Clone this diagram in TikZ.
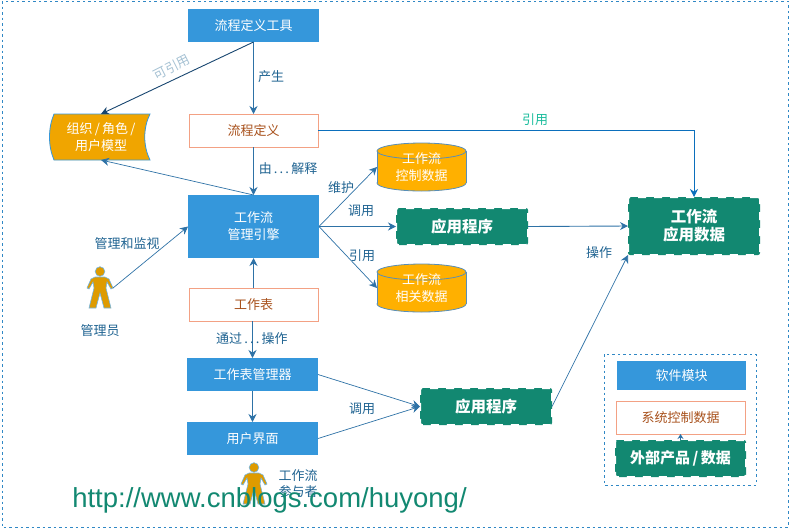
\documentclass[tikz,border=0pt]{standalone}
\usepackage{fontspec}
\setmainfont{Noto Sans CJK SC}
\newfontfamily\urlfont{Liberation Sans}
\usetikzlibrary{arrows.meta,positioning}
\definecolor{modblue}{HTML}{3597DB}
\definecolor{extgreen}{HTML}{128871}
\definecolor{linkblue}{HTML}{2E72A6}
\definecolor{lblblue}{HTML}{1F6391}
\definecolor{sysline}{HTML}{F3A184}
\definecolor{systext}{HTML}{A8511C}
\definecolor{dbfill}{HTML}{FFB000}
\definecolor{orgfill}{HTML}{F0A500}
\definecolor{manfill}{HTML}{DE9B00}
\definecolor{navyline}{HTML}{17456F}
\definecolor{refline}{HTML}{0B6FBC}
\definecolor{reftext}{HTML}{1ABC9C}
\tikzset{
    module/.style={fill=modblue, text=white, minimum width=131pt, minimum height=33pt, inner sep=0pt, outer sep=0pt, font=\fontsize{13}{17}\selectfont, align=center},
    sysdata/.style={draw=sysline, fill=white, text=systext, line width=0.8pt, minimum width=129pt, minimum height=33pt, inner sep=0pt, outer sep=0pt, font=\fontsize{13}{17}\selectfont},
    extprod/.style={fill=extgreen, draw=white, line width=2pt, dash pattern=on 8pt off 8pt, rounded corners=2pt, text=white, minimum width=132pt, minimum height=37pt, inner sep=0pt, outer sep=0pt, font=\fontsize{15.5}{18}\selectfont\bfseries, align=center},
    dbtext/.style={text=white, minimum width=89pt, minimum height=48pt, inner sep=0pt, outer sep=0pt, font=\fontsize{13}{17}\selectfont, align=center},
    flow/.style={-{Stealth[length=8pt, width=8pt]}, linkblue, line width=0.9pt},
    thinflow/.style={flow, line width=0.7pt},
    lbl/.style={text=lblblue, font=\fontsize{13}{16}\selectfont, align=center},
    framebox/.style={modblue!90!black, dash pattern=on 2.5pt off 3pt, line width=0.8pt},
    drumline/.style={draw=linkblue!80, fill=dbfill, line width=0.8pt},
    drum/.pic={
        \filldraw[drumline] (0,16) ellipse (44.5 and 8);
        \fill[dbfill] (-44.5,-16) rectangle (44.5,16);
        \draw[drumline] (-44.5,-16) -- (-44.5,16) (44.5,-16) -- (44.5,16);
        \filldraw[drumline] (0,-16) ellipse (44.5 and 8);
    },
    person/.pic={
        \filldraw[fill=manfill, draw=modblue!70, line width=0.6pt] (0,-16.5) circle (4.8);
        \filldraw[fill=manfill, draw=modblue!70, line width=0.6pt] (-5,-11) -- (5,-11) -- (9,-9) -- (13,0) -- (11,1) -- (7,-6) -- (6,0) -- (11,20) -- (4,20) -- (0,5) -- (-4,20) -- (-11,20) -- (-6,0) -- (-7,-6) -- (-11,1) -- (-13,0) -- (-9,-9) -- cycle;
        \coordinate (-hand) at (13,0);
    }
}
\begin{document}
\begin{tikzpicture}[x=1pt, y=-1pt]
\useasboundingbox (0,0) rectangle (791,528);
\draw[framebox] (2,1) rectangle (788,527);
\draw[framebox] (604,354) rectangle (756,485);

% main column
\node[module] (tool) at (253.5,25.5) {流程定义工具};
\node[sysdata, below=72pt of tool] (procdef) {流程定义};
\node[module, minimum height=63pt, below=48pt of procdef] (engine) {工作流\\管理引擎};
\node[sysdata, below=30pt of engine] (worklist) {工作表};
\node[module, below=37pt of worklist, xshift=-1pt] (wlmgr) {工作表管理器};
\node[module, below=31pt of wlmgr] (userui) {用户界面};

% organisation model
\filldraw[fill=orgfill, draw=modblue, line width=0.8pt] (54,114) -- (150,114) .. controls (143,128) and (143,146) .. (150,160) -- (54,160) .. controls (48,146) and (48,128) .. (54,114) -- cycle;
\node[minimum width=96pt, minimum height=46pt, inner sep=0pt, outer sep=0pt, text=white, font=\fontsize{13}{17}\selectfont, align=center] (org) at (101,137) {组织\,/\,角色\,/\\用户模型};

% data stores
\pic at (421.5,167) {drum};
\node[dbtext] (ctrldb) at (421.5,167) {工作流\\控制数据};
\pic at (421.5,288) {drum};
\node[dbtext] (reldb) at (421.5,288) {工作流\\相关数据};

% applications
\node[extprod] (app) at (462,226.5) {应用程序};
\node[extprod, minimum height=58pt] (appdata) at (694,226) {工作流\\应用数据};
\node[extprod] (app2) at (486,406.5) {应用程序};

% people
\pic (admin) at (100,288) {person};
\pic (user) at (254,484) {person};
\node[lbl] (admintxt) at (100,331) {管理员};
\node[lbl] (usertxt) at (298,484) {工作流\\参与者};

% legend
\node[module, minimum width=129pt, minimum height=29pt] (legmod) at (681.5,375.5) {软件模块};
\node[sysdata] (legsys) at (680.5,417.5) {系统控制数据};
\node[extprod, minimum width=131pt, font=\fontsize{15}{18}\selectfont\bfseries] (legext) at (680.5,458.5) {外部产品\,/\,数据};

% connectors
\draw[flow] (tool) -- (procdef);
\draw[flow] (procdef) -- (engine);
\draw[flow, color=navyline] (tool.south) -- (org.north);
\draw[thinflow] (engine.north) -- (org.south);
\draw[flow, color=refline] (procdef.east) -| (appdata.north);
\draw[thinflow] (engine.east) -- (ctrldb.west);
\draw[flow] (engine.east) -- (app.west);
\draw[thinflow] (engine.east) -- (reldb.west);
\draw[flow] (app.east) -- (appdata.west);
\draw[thinflow] (app2.east) -- (appdata.south west);
\draw[thinflow] (admin-hand) -- (engine.west);
\draw[flow] (worklist) -- (engine);
\draw[flow] (worklist.south -| wlmgr.north) -- (wlmgr.north);
\draw[flow] (wlmgr) -- (userui);
\draw[thinflow] (wlmgr.east) -- (app2.west);
\draw[thinflow] (userui.east) -- (app2.west);
\draw[flow, -{Stealth[length=5pt, width=6pt]}] (legext.north) -- (legsys.south);

% labels
\node[lbl] (gen) at (271,77) {产生};
\node[lbl, text=lblblue!40, rotate=27] (canuse) at (172,67) {可引用};
\node[lbl] (interp) at (288,169) {由\,.\,.\,.\,解释};
\node[lbl, text=reftext] (ref) at (535,120) {引用};
\node[lbl] (maintain) at (341,188) {维护};
\node[lbl] (callapp) at (361,211) {调用};
\node[lbl] (refrel) at (362,256) {引用};
\node[lbl] (oper) at (599,253) {操作};
\node[lbl] (monitor) at (127,244) {管理和监视};
\node[lbl] (through) at (252,339) {通过\,.\,.\,.\,操作};
\node[lbl] (callapp2) at (362,409) {调用};

\node[text=extgreen, font=\urlfont\fontsize{27.5}{30}\selectfont, inner sep=0pt] (site) at (269.5,500) {http://www.cnblogs.com/huyong/};
\end{tikzpicture}
\end{document}
